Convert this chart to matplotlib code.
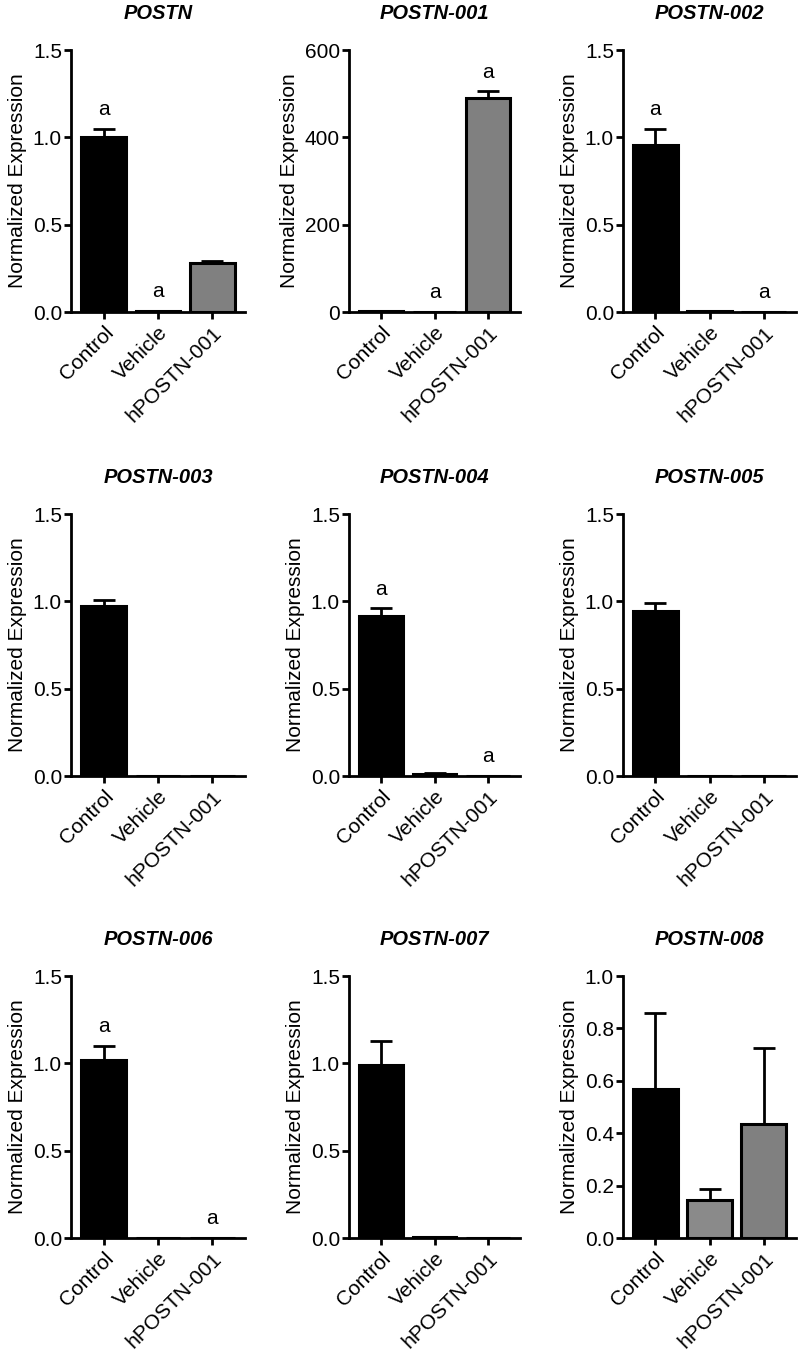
import matplotlib
matplotlib.use("Agg")
import matplotlib.pyplot as plt
import numpy as np

plt.rcParams['font.family'] = ['Liberation Sans', 'DejaVu Sans']

groups = ["Control", "Vehicle", "hPOSTN-001"]
titles = ["POSTN", "POSTN-001", "POSTN-002",
          "POSTN-003", "POSTN-004", "POSTN-005",
          "POSTN-006", "POSTN-007", "POSTN-008"]

means = [
    [1.00, 0.005, 0.28],
    [2.0, 0.3, 490.0],
    [0.955, 0.005, 0.002],
    [0.973, 0.0, 0.0],
    [0.916, 0.014, 0.002],
    [0.945, 0.0, 0.0],
    [1.019, 0.002, 0.001],
    [0.99, 0.006, 0.001],
    [0.569, 0.146, 0.435],
]
errs = [
    [0.05, 0.0, 0.012],
    [0.0, 0.0, 15.0],
    [0.095, 0.0, 0.0],
    [0.034, 0.0, 0.0],
    [0.044, 0.006, 0.0],
    [0.045, 0.0, 0.0],
    [0.081, 0.0, 0.0],
    [0.14, 0.0, 0.0],
    [0.29, 0.04, 0.292],
]
letters = [
    ["a", "a", ""],
    ["", "a", "a"],
    ["a", "", "a"],
    ["", "", ""],
    ["a", "", "a"],
    ["", "", ""],
    ["a", "", "a"],
    ["", "", ""],
    ["", "", ""],
]
yticks = [
    [0, 0.5, 1.0, 1.5], [0, 200, 400, 600], [0, 0.5, 1.0, 1.5],
    [0, 0.5, 1.0, 1.5], [0, 0.5, 1.0, 1.5], [0, 0.5, 1.0, 1.5],
    [0, 0.5, 1.0, 1.5], [0, 0.5, 1.0, 1.5], [0, 0.2, 0.4, 0.6, 0.8, 1.0],
]
ytickfmt = ["{:.1f}", "{:.0f}", "{:.1f}", "{:.1f}", "{:.1f}", "{:.1f}",
            "{:.1f}", "{:.1f}", "{:.1f}"]

bar_colors = ["#000000", "#8a8a8a", "#808080"]

W, H = 800, 1366
fig = plt.figure(figsize=(W / 100, H / 100), dpi=100)

col_px = [(71, 174), (349, 171), (623, 173)]
row_px = [50, 514, 976]
ax_h = 262
fs = 15

for i in range(9):
    r, c = divmod(i, 3)
    left, width = col_px[c]
    top = row_px[r]
    ax = fig.add_axes([left / W, 1 - (top + ax_h) / H, width / W, ax_h / H])
    x = np.arange(3)
    m = means[i]
    e = errs[i]
    ax.errorbar(x, m, yerr=[np.zeros(3), e], fmt='none', ecolor='black',
                elinewidth=2, capsize=8, capthick=2, zorder=1)
    ax.bar(x, m, width=0.82, color=bar_colors, edgecolor='black',
           linewidth=2.2, zorder=2)
    ymax = yticks[i][-1]
    ax.set_ylim(0, ymax)
    ax.set_xlim(-0.6, 2.6)
    ax.set_yticks(yticks[i])
    ax.set_yticklabels([ytickfmt[i].format(v) for v in yticks[i]])
    ax.set_xticks(x)
    ax.set_xticklabels(groups, rotation=45, ha='right', rotation_mode='anchor')
    for xi in range(3):
        if letters[i][xi]:
            ax.annotate(letters[i][xi], (x[xi], m[xi] + e[xi]),
                        xytext=(0, 7), textcoords='offset points',
                        ha='center', va='bottom', fontsize=fs)
    for s in ['top', 'right']:
        ax.spines[s].set_visible(False)
    for s in ['left', 'bottom']:
        ax.spines[s].set_linewidth(2)
    ax.tick_params(axis='both', width=2, length=5, labelsize=fs, pad=1.5)
    ax.tick_params(axis='x', pad=3)
    ax.set_ylabel("Normalized Expression", fontsize=fs, labelpad=4)
    ax.set_title(titles[i], fontsize=14.5, fontweight='bold', style='italic',
                 pad=22)

fig.savefig("out.png", dpi=100)
